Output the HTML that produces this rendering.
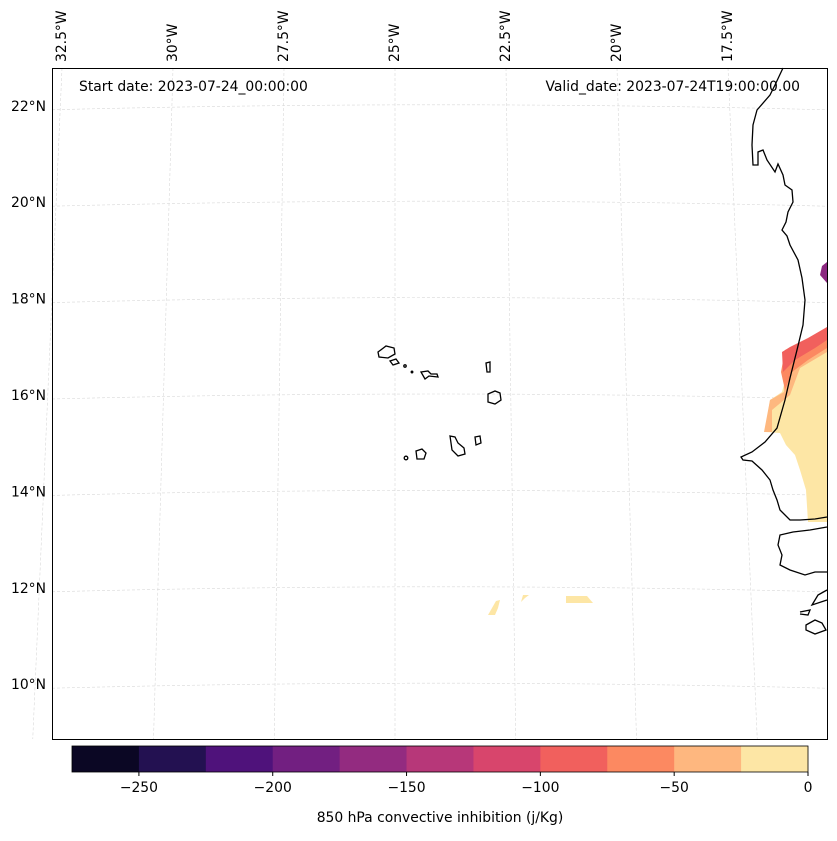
<!DOCTYPE html>
<html><head><meta charset="utf-8"><style>
body{margin:0;background:#fff;font-family:"Liberation Sans","DejaVu Sans",sans-serif}
svg text{font-family:"DejaVu Sans","Liberation Sans",sans-serif;font-size:13.9px;fill:#000}
</style></head><body>
<svg id="chart" width="837" height="836" viewBox="0 0 837 836" xmlns="http://www.w3.org/2000/svg">
<g id="grid"></g>
<g>
<polygon fill="#fde6a5" points="827,340 790,362 782,392 770,400 765,432 780,433 786,445 795,455 800,470 806,490 808,522 827,522"/>
<polygon fill="#feb87f" points="827,335 800,350 785,368 784,392 770,400 764,432 772,432 772,410 790,395 800,368 827,352"/>
<polygon fill="#fc8961" points="827,330 805,342 785,350 781,372 785,390 792,372 808,360 827,348"/>
<polygon fill="#f1605d" points="827,327 808,338 790,347 782,352 783,372 795,360 815,348 827,340"/>
<polygon fill="#8c2981" points="822,266 827,262 827,283 820,275"/>
<polygon fill="#fde6a5" points="488,615 496,601 500,600 498,608 495,615"/>
<polygon fill="#fde6a5" points="521,602 523,595 529,595 525,598"/>
<polygon fill="#fde6a5" points="566,596 587,596 593,603 566,603"/>
</g>
<g fill="none" stroke="#000" stroke-width="1.3">
<path d="M783,68 L775,85 770,95 757,110 753,125 752,145 753,165 758,165 758,152 763,150 767,160 775,172 778,164 783,175 785,185 792,190 793,202 788,212 786,222 782,230 787,236 790,245 798,260 802,278 805,300 803,325 797,350 790,378 785,400 777,428 765,442 752,452 741,457 743,460 752,461 762,470 770,480 773,490 777,500 780,510 790,520 800,520 815,519 827,517"/>
<path d="M827,527 L810,530 793,532 780,535 778,545 782,555 780,565 790,570 805,575 815,572 827,572 M827,590 L818,595 812,605 827,600 M800,612 L810,610 808,615 800,614 M806,625 L815,620 822,623 826,630 815,634 806,630 Z"/>
<path d="M378,352 L386,346 394,348 395,354 388,358 379,357 Z"/>
<path d="M390,361 L396,359 399,363 393,365 Z"/>
<path d="M421,372 L428,371 431,374 437,374 438,377 429,376 425,379 Z"/>
<path d="M486,363 L490,362 490,372 487,372 Z"/>
<path d="M488,394 L495,391 500,393 501,400 495,404 488,402 Z"/>
<path d="M450,436 L455,437 458,443 464,448 465,454 458,456 452,450 Z"/>
<path d="M475,437 L480,436 481,443 476,445 Z"/>
<path d="M416,451 L422,449 426,453 424,459 417,459 Z"/>
<circle cx="406" cy="458" r="1.8"/>
<circle cx="405" cy="366" r="1.2"/>
<circle cx="412" cy="372" r="0.8"/>
</g>
<rect x="52.5" y="68.5" width="775" height="671" fill="none" stroke="#000" stroke-width="1"/>
<text x="79" y="91">Start date: 2023-07-24_00:00:00</text>
<text x="800" y="91" text-anchor="end">Valid_date: 2023-07-24T19:00:00.00</text>
<g id="lonlabels"></g>
<g id="latlabels"></g>
<g id="cbar"></g>
<text x="440" y="822" text-anchor="middle">850 hPa convective inhibition (j/Kg)</text>
</svg>
<script>
const lats=[22,20,18,16,14,12,10];
const lons=[32.5,30,27.5,25,22.5,20,17.5];
const levels=[-275,-250,-225,-200,-175,-150,-125,-100,-75,-50,-25,0];
const colors=["#0b0724","#231151","#4f127b","#721f81","#932b80","#b73779","#d8456c","#f1605d","#fc8961","#feb77f","#fde6a5"];
const cbTicks=[-250,-200,-150,-100,-50,0];
const NS="http://www.w3.org/2000/svg";
function mk(t,a,p){const e=document.createElementNS(NS,t);for(const k in a)e.setAttribute(k,a[k]);p.appendChild(e);return e;}
const lonTopX=v=>395+(25-v)*44.4;
const lonBotX=v=>395+(25-v)*48.3;
const latYf=v=>395-(v-16)*48.2;
const grid=document.getElementById('grid');
lats.forEach(v=>{const y=latYf(v);
 const l=mk('path',{d:`M52,${y+4} Q440,${y-6} 827,${y+4}`,fill:'none',stroke:'#d8d8d8','stroke-width':0.6,'stroke-dasharray':'3,2'},grid);
 
 });
lons.forEach(v=>{
 const l=mk('line',{x1:lonTopX(v),y1:68,x2:lonBotX(v),y2:739,stroke:'#d8d8d8','stroke-width':0.6,'stroke-dasharray':'3,2'},grid);
 
 });
const lg=document.getElementById('lonlabels');
lons.forEach(v=>{const x=lonTopX(v)+4;
 const t=mk('text',{x:x,y:62,transform:`rotate(-90 ${x} 62)`},lg);t.textContent=v+'°W';
 
 });
const tg=document.getElementById('latlabels');
lats.forEach(v=>{const t=mk('text',{x:46,y:latYf(v)+5,'text-anchor':'end'},tg);t.textContent=v+'°N';
 
 });
const cb=document.getElementById('cbar');
const cx=v=>72+(v-(-275))/275*736;
for(let i=0;i<colors.length;i++){
 const r=mk('rect',{x:cx(levels[i]),y:746,width:cx(levels[i+1])-cx(levels[i])+0.5,height:26,fill:colors[i]},cb);
 
 }
mk('rect',{x:72,y:746,width:736,height:26,fill:'none',stroke:'#000','stroke-width':0.8},cb);
cbTicks.forEach(v=>{mk('line',{x1:cx(v),y1:772,x2:cx(v),y2:776,stroke:'#000'},cb);
 const t=mk('text',{x:cx(v),y:792,'text-anchor':'middle'},cb);t.textContent=v<0?'\u2212'+(-v):v;
 
 });
</script>
</body></html>
